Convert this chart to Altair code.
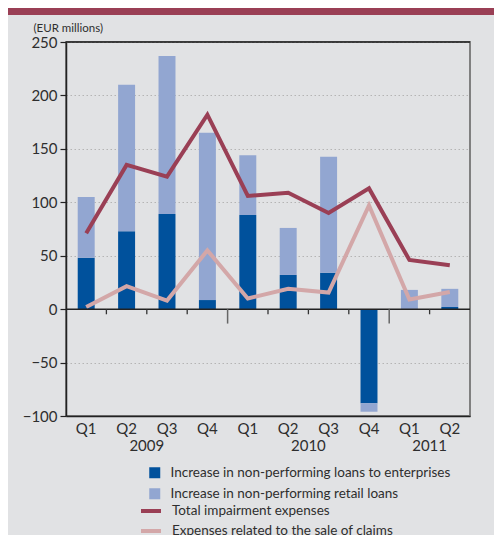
import altair as alt
import pandas as pd

# ---- data ----
quarters = ["Q1", "Q2", "Q3", "Q4", "Q1", "Q2", "Q3", "Q4", "Q1", "Q2"]
years = ["2009", "2009", "2009", "2009", "2010", "2010", "2010", "2010", "2011", "2011"]
enterprises = [48, 73, 89, 8.5, 88, 32, 34, -88, 0, 2]
retail = [57, 137, 148, 156.5, 56, 44, 108.5, -8, 18, 17]
total_impairment = [71, 135, 124, 182, 106, 109, 90, 113, 46, 41]
sale_of_claims = [2, 21.5, 8, 55, 10, 19, 15.5, 97, 9, 16]

bar_names = ["Increase in non-performing loans to enterprises",
             "Increase in non-performing retail loans"]
line_names = ["Total impairment expenses",
              "Expenses related to the sale of claims"]
y_ticks = [-100, -50, 0, 50, 100, 150, 200, 250]

periods = [f"{y}-{q}" for y, q in zip(years, quarters)]

bars_df = pd.DataFrame(
    [{"period": p, "series": bar_names[0], "value": v, "ord": 0} for p, v in zip(periods, enterprises)]
    + [{"period": p, "series": bar_names[1], "value": v, "ord": 1} for p, v in zip(periods, retail)]
)
lines_df = pd.DataFrame(
    [{"period": p, "line": line_names[0], "value": v} for p, v in zip(periods, total_impairment)]
    + [{"period": p, "line": line_names[1], "value": v} for p, v in zip(periods, sale_of_claims)]
)

# quarter boundary ticks along zero line (long ones between years)
short_rows, long_rows = [], []
for i in range(1, len(periods)):
    if years[i] != years[i - 1]:
        long_rows.append({"period": periods[i], "zero": 0, "depth": -13.5})
    else:
        short_rows.append({"period": periods[i], "zero": 0, "depth": -4.8})
short_df = pd.DataFrame(short_rows)
long_df = pd.DataFrame(long_rows)

# year labels centred under their quarters
year_rows = []
for yr in dict.fromkeys(years):
    idx = [i for i, y in enumerate(years) if y == yr]
    mid = idx[len(idx) // 2]
    year_rows.append({"period": periods[mid], "year": yr})
years_df = pd.DataFrame(year_rows)

FONT = "Lato"
TXT = "#2e2e2e"
FS = 15
LFS = 13.5

xscale = alt.Scale(domain=periods, paddingInner=0, paddingOuter=0)
yscale = alt.Scale(domain=[-100, 250], nice=False)

x_enc = alt.X("period:N", scale=xscale, sort=periods,
              axis=alt.Axis(title=None, labelExpr="split(datum.value, '-')[1]",
                            labelAngle=0, labelFontSize=FS, labelColor=TXT, labelFont=FONT,
                            ticks=False, domainColor="#222", domainWidth=1.5, labelPadding=5))

bars = alt.Chart(bars_df).mark_bar(width=alt.RelativeBandSize(0.42)).encode(
    x=x_enc,
    y=alt.Y("value:Q", scale=yscale, stack="zero",
            axis=alt.Axis(values=y_ticks, title="(EUR millions)", titleAngle=0,
                          titleX=-33, titleY=-9, titleAlign="left", titleBaseline="bottom",
                          titleFontSize=11.5, titleFontWeight="normal", titleColor=TXT, titleFont=FONT,
                          labelFontSize=FS, labelColor=TXT, labelFont=FONT, labelPadding=3,
                          tickColor="#222", tickSize=6, tickWidth=1.2,
                          domainColor="#222", domainWidth=1.5,
                          gridColor="#b4b4b4", gridDash=[1.5, 2.5], gridWidth=1)),
    color=alt.Color("series:N", scale=alt.Scale(domain=bar_names, range=["#00519c", "#92a6d1"]),
                    legend=alt.Legend(orient="none", legendX=82, legendY=424, title=None,
                                      symbolType="square", symbolSize=121, symbolStrokeWidth=0,
                                      labelFontSize=LFS, labelFont=FONT, labelColor=TXT,
                                      labelLimit=400, labelOffset=9, rowPadding=6, padding=0)),
    order=alt.Order("ord:Q"),
)

lines = alt.Chart(lines_df).mark_line(strokeWidth=4).encode(
    x=alt.X("period:N", scale=xscale, sort=periods),
    y=alt.Y("value:Q", scale=yscale),
    stroke=alt.Stroke("line:N", scale=alt.Scale(domain=line_names, range=["#9a3f55", "#d3a7a8"]),
                      legend=alt.Legend(orient="none", legendX=73, legendY=457, title=None,
                                        symbolType="stroke", symbolSize=400, symbolStrokeWidth=4,
                                        labelFontSize=LFS, labelFont=FONT, labelColor=TXT,
                                        labelLimit=400, labelOffset=9, rowPadding=-3, padding=0)),
)

zero_line = alt.Chart(pd.DataFrame({"v": [0]})).mark_rule(color="#222", strokeWidth=1.5).encode(
    y=alt.Y("v:Q", scale=yscale))
top_line = alt.Chart(pd.DataFrame({"v": [250]})).mark_rule(color="#222", strokeWidth=1.5).encode(
    y=alt.Y("v:Q", scale=yscale))

short_ticks = alt.Chart(short_df).mark_rule(strokeWidth=1.3, color="#333").encode(
    x=alt.X("period:N", scale=xscale, sort=periods, bandPosition=0),
    y=alt.Y("zero:Q", scale=yscale),
    y2="depth:Q",
)
long_ticks = alt.Chart(long_df).mark_rule(strokeWidth=1.5, color="#666").encode(
    x=alt.X("period:N", scale=xscale, sort=periods, bandPosition=0),
    y=alt.Y("zero:Q", scale=yscale),
    y2="depth:Q",
)

year_text = alt.Chart(years_df).mark_text(fontSize=FS, font=FONT, color=TXT, baseline="middle").encode(
    x=alt.X("period:N", scale=xscale, sort=periods, bandPosition=0),
    y=alt.value(404),
    text="year:N",
)

band = alt.Chart(pd.DataFrame({"a": [1]})).mark_rect(color="#9a3f55").encode(
    x=alt.value(-58), x2=alt.value(428), y=alt.value(-34), y2=alt.value(-27))

chart = alt.layer(bars, lines, zero_line, top_line, short_ticks, long_ticks, year_text, band).properties(
    width=404, height=374,
    autosize=alt.AutoSizeParams(type="none"),
    padding={"left": 58, "top": 34, "right": 24, "bottom": 119},
    background="#e1e2e4",
).configure_view(stroke="#808080", strokeWidth=2, fill="#e1e2e4")

chart.save("out.html", embed_options={"renderer": "svg", "actions": False})
